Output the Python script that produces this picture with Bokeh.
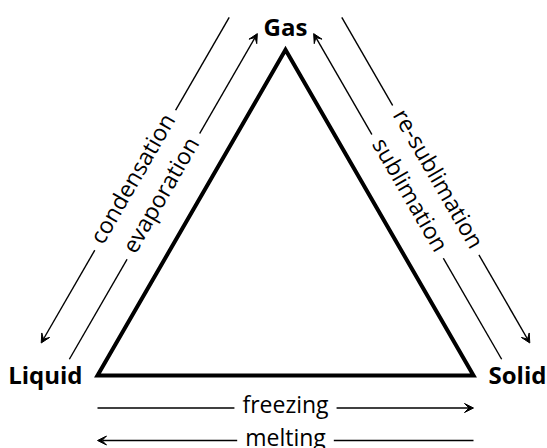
import math
from bokeh.plotting import figure
from bokeh.models import Range1d, Arrow, VeeHead, ColumnDataSource
from bokeh.core.properties import value
from bokeh.embed import file_html
from bokeh.resources import INLINE

# ---- data ----
phases = ["Gas", "Liquid", "Solid"]
transitions = ["evaporation", "condensation", "sublimation", "re-sublimation", "freezing", "melting"]
trans_from = ["Liquid", "Gas", "Solid", "Gas", "Liquid", "Solid"]
trans_to = ["Gas", "Liquid", "Gas", "Solid", "Solid", "Liquid"]

# ---- layout (unit equilateral triangle) ----
vertex = {"Liquid": (0.0, 0.0), "Solid": (1.0, 0.0), "Gas": (0.5, math.sqrt(3) / 2)}
PPU = 376.0            # pixels per unit
LANE = 32.5 / PPU      # spacing between parallel arrows
RAISE = 4 / PPU        # optical centring of the labels on their lines
FONT = "Open Sans"
OX, OY = 97, 375       # pixel position of the Liquid corner

W, H = 547, 448
p = figure(width=W, height=H,
           x_range=Range1d(-OX / PPU, (W - OX) / PPU),
           y_range=Range1d((OY - H) / PPU, OY / PPU),
           x_axis_type=None, y_axis_type=None,
           output_backend="svg", toolbar_location=None, min_border=0)
p.grid.visible = False
p.outline_line_color = None
p.background_fill_color = "white"
p.border_fill_color = "white"

# triangle
p.patch([vertex[k][0] for k in phases], [vertex[k][1] for k in phases],
        fill_color=None, line_color="black", line_width=4, line_join="miter")

# transitions: arrows parallel to the edges, with labels
lane_count = {}
x0, y0, x1, y1, tx, ty, ang = [], [], [], [], [], [], []
for name, a, b in zip(transitions, trans_from, trans_to):
    key = frozenset((a, b))
    lane_count[key] = lane_count.get(key, 0) + 1
    lane = lane_count[key]
    c = [k for k in phases if k not in key][0]
    ax, ay = vertex[a]
    bx, by = vertex[b]
    cx, cy = vertex[c]
    L = math.hypot(bx - ax, by - ay)
    dx, dy = (bx - ax) / L, (by - ay) / L
    nx, ny = -dy, dx
    mx, my = (ax + bx) / 2, (ay + by) / 2
    if nx * (mx - cx) + ny * (my - cy) < 0:
        nx, ny = -nx, -ny
    off = lane * LANE
    x0.append(ax + nx * off); y0.append(ay + ny * off)
    x1.append(bx + nx * off); y1.append(by + ny * off)
    t = math.atan2(dy, dx)
    if t > math.pi / 2:
        t -= math.pi
    elif t <= -math.pi / 2:
        t += math.pi
    ang.append(t)
    ux, uy = -math.sin(t), math.cos(t)   # text "up" direction
    tx.append(mx + nx * off + ux * RAISE)
    ty.append(my + ny * off + uy * RAISE)

arrows = ColumnDataSource(dict(x0=x0, y0=y0, x1=x1, y1=y1))
p.add_layout(Arrow(source=arrows, x_start="x0", y_start="y0", x_end="x1", y_end="y1",
                   line_color="black", line_width=1.4,
                   end=VeeHead(size=9, fill_color="black", line_color="black", line_width=1)))

labels = ColumnDataSource(dict(x=tx, y=ty, text=transitions, angle=ang))
r = p.text(x="x", y="y", text="text", angle="angle", source=labels,
           text_align="center", text_baseline="middle",
           text_font=value(FONT), text_font_size="23px", text_color="black",
           background_fill_color="white", padding=(8, 0))
r.level = "overlay"

# phase labels
GAP = 15 / PPU
gx, gy = vertex["Gas"]
lx, ly = vertex["Liquid"]
sx, sy = vertex["Solid"]
ph = ColumnDataSource(dict(
    x=[gx, lx - GAP, sx + GAP],
    y=[gy + 23 / PPU, ly + 1 / PPU, sy + 1 / PPU],
    text=phases,
    align=["center", "right", "left"],
))
p.text(x="x", y="y", text="text", text_align="align", source=ph,
       text_baseline="alphabetic", text_font=value(FONT), text_font_style="bold",
       text_font_size="24px", text_color="black")

open("out.html", "w").write(file_html(p, INLINE))
